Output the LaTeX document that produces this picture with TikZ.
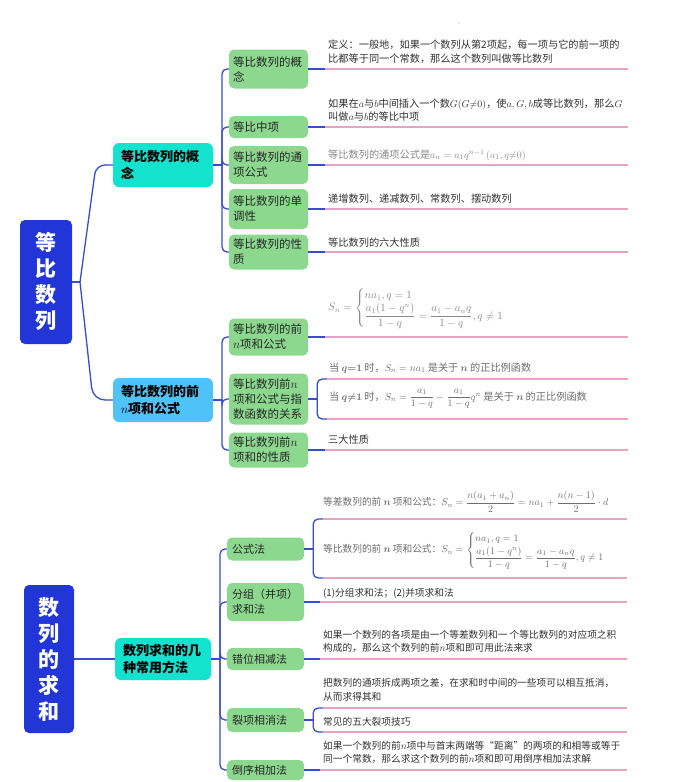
\documentclass[tikz,border=0pt]{standalone}
\usepackage{amsmath}
\usepackage{fontspec}
\setmainfont{Noto Sans CJK SC}
\definecolor{rootblue}{HTML}{2236D8}
\definecolor{tealc}{HTML}{12E2CE}
\definecolor{skyc}{HTML}{4FC2F7}
\definecolor{greenc}{HTML}{8BD88E}
\definecolor{linkblue}{HTML}{3A4CCC}
\definecolor{ulpink}{HTML}{E8A3C4}
\definecolor{leaftext}{HTML}{333333}
\definecolor{formgray}{HTML}{6E6E6E}
\definecolor{lightgray}{HTML}{8A8A8A}
\tikzset{
 rootbox/.style={fill=rootblue, rounded corners=5pt, text=white, align=center, inner sep=0pt, font=\fontsize{21}{26}\selectfont\bfseries},
 lvlone/.style={rounded corners=6pt, align=left, inner xsep=8pt, inner ysep=0pt, text width=84pt, font=\fontsize{13}{17}\selectfont\bfseries, text=black},
 lvltwo/.style={fill=greenc, rounded corners=5pt, align=left, inner xsep=4pt, inner ysep=0pt, text width=71pt, font=\fontsize{11.5}{15}\selectfont, text=black!85},
 lvltwob/.style={lvltwo, inner xsep=5pt, text width=67pt, font=\fontsize{11}{15}\selectfont},
 leafa/.style={anchor=west, align=left, inner sep=0pt, text=leaftext, font=\fontsize{10.2}{13.5}\selectfont},
 leafb/.style={leafa, font=\fontsize{9.7}{13.5}\selectfont},
 conn/.style={draw=linkblue, line width=1.3pt, rounded corners=5pt},
 uline/.style={draw=ulpink, line width=1.1pt},
}
\begin{document}
\begin{tikzpicture}[x=1pt,y=-1pt]
\useasboundingbox (0,0) rectangle (682,782);
\fill[white] (0,0) rectangle (682,782);
\fill[lightgray] (459,23) circle (0.6);

% roots
\node[rootbox, minimum width=52, minimum height=124] (r1) at (46,282) {等\\比\\数\\列};
\node[rootbox, minimum width=50, minimum height=148] (r2) at (49,659) {数\\列\\的\\求\\和};

% level 1
\node[lvlone, fill=tealc, minimum height=44] (c1) at (163,165) {等比数列的概\\念};
\node[lvlone, fill=skyc, minimum height=44] (c2) at (163,400) {等比数列的前\\$n$项和公式};
\node[lvlone, fill=tealc, minimum height=42, text width=80pt] (c3) at (163,659) {数列求和的几\\种常用方法};

% level 2
\node[lvltwo, minimum height=39] (k11) at (268.5,69) {等比数列的概\\念};
\node[lvltwo, minimum height=22] (k12) at (268.5,127) {等比中项};
\node[lvltwo, minimum height=38] (k13) at (268.5,165) {等比数列的通\\项公式};
\node[lvltwo, minimum height=40] (k14) at (268.5,209) {等比数列的单\\调性};
\node[lvltwo, minimum height=35] (k15) at (268.5,252) {等比数列的性\\质};
\node[lvltwo, minimum height=37] (k21) at (268.5,337) {等比数列的前\\$n$项和公式};
\node[lvltwo, minimum height=51] (k22) at (268.5,399) {等比数列前$n$\\项和公式与指\\数函数的关系};
\node[lvltwo, minimum height=35] (k23) at (268.5,450) {等比数列前$n$\\项和的性质};
\node[lvltwob, minimum height=23] (k31) at (265.5,549) {公式法};
\node[lvltwob, minimum height=38] (k32) at (265.5,602) {分组（并项）\\求和法};
\node[lvltwob, minimum height=22] (k33) at (265.5,659) {错位相减法};
\node[lvltwob, minimum height=24] (k34) at (265.5,720) {裂项相消法};
\node[lvltwob, minimum height=20] (k35) at (265.5,770) {倒序相加法};

% root connectors
\coordinate (j0) at (80,282);
\draw[conn] (r1.east) -- (j0);
\draw[conn, rounded corners=9pt] (j0) -- (96,165) -- (c1.west);
\draw[conn, rounded corners=12pt] (j0) -- (93,400) -- (c2.west);
\draw[conn] (r2.east) -- (c3.west);

% level1 -> level2
\coordinate (j1) at (222,165);
\coordinate (j2) at (222,400);
\coordinate (j3) at (220,659);
\draw[conn] (c1.east) -- (j1);
\draw[conn] (c2.east) -- (j2);
\draw[conn] (c3.east) -- (j3);
\foreach \k in {k11,k12,k13,k14,k15} {\draw[conn] (j1) |- (\k.west);}
\foreach \k in {k21,k22,k23} {\draw[conn] (j2) |- (\k.west);}
\foreach \k in {k31,k32,k33,k34,k35} {\draw[conn] (j3) |- (\k.west);}

% simple leaf lines
\foreach \k in {k11,k12,k13,k14,k15,k21,k23} {
  \draw[conn] (\k.east) -- ++(17,0) coordinate (u-\k);
  \draw[uline] (u-\k) -- ++(303,0);
}
\foreach \k in {k32,k33,k35} {
  \draw[conn] (\k.east) -- ++(16,0) coordinate (u-\k);
  \draw[uline] (u-\k) -- ++(307,0);
}
% brackets
\draw[conn] (k22.east) -- ++(9,0) coordinate (b22);
\draw[conn] (b22) |- ++(10,-20) coordinate (t22a);
\draw[conn] (b22) |- ++(10,20) coordinate (t22b);
\draw[uline] (t22a) -- ++(301,0);
\draw[uline] (t22b) -- ++(301,0);

\draw[conn] (k31.east) -- ++(9,0) coordinate (b31);
\draw[conn] (b31) |- ++(10,-30) coordinate (t31a);
\draw[conn] (b31) |- ++(10,29) coordinate (t31b);
\draw[uline] (t31a) -- ++(304,0);
\draw[uline] (t31b) -- ++(304,0);

\draw[conn] (k34.east) -- ++(9,0) coordinate (b34);
\draw[conn] (b34) |- ++(10,-12) coordinate (t34a);
\draw[conn] (b34) |- ++(10,12) coordinate (t34b);
\draw[uline] (t34a) -- ++(304,0);
\draw[uline] (t34b) -- ++(304,0);

% leaf texts group 1
\node[leafa] (x11) at (328,51.5) {定义：一般地，如果一个数列从第2项起，每一项与它的前一项的\\比都等于同一个常数，那么这个数列叫做等比数列};
\node[leafa] (x12) at (328,110) {如果在$a$与$b$中间插入一个数$G(G{\neq}0)$，使$a,G,b$成等比数列，那么$G$\\叫做$a$与$b$的等比中项};
\node[leafa, text=lightgray] (x13) at (328,155) {等比数列的通项公式是$a_n=a_1q^{n-1}\,(a_1,q{\neq}0)$};
\node[leafa] (x14) at (328,199) {递增数列、递减数列、常数列、摆动数列};
\node[leafa] (x15) at (328,243) {等比数列的六大性质};

% group 2
\node[leafa, text=lightgray, font=\fontsize{10.6}{13.5}\selectfont] (x21) at (328,308) {$S_n=\begin{cases} na_1,q=1\\ \dfrac{a_1(1-q^n)}{1-q}=\dfrac{a_1-a_nq}{1-q},q\neq1\end{cases}$};
\node[leafa, text=formgray] (x22) at (329,368) {当 {\boldmath$q{=}1$} 时，$S_n=na_1$ 是关于 {\boldmath$n$} 的正比例函数};
\node[leafa, text=formgray] (x23) at (329,399) {当 {\boldmath$q{\neq}1$} 时，$S_n=\dfrac{a_1}{1-q}-\dfrac{a_1}{1-q}q^n$ 是关于 {\boldmath$n$} 的正比例函数};
\node[leafa] (x24) at (328,440) {三大性质};

% group 3
\node[leafb, text=formgray] (x31a) at (323,502) {等差数列的前 {\boldmath$n$} 项和公式：$S_n=\dfrac{n(a_1+a_n)}{2}=na_1+\dfrac{n(n-1)}{2}\cdot d$};
\node[leafb, text=formgray] (x31b) at (323,550) {等比数列的前 {\boldmath$n$} 项和公式：$S_n=\begin{cases} na_1,q=1\\ \dfrac{a_1(1-q^n)}{1-q}=\dfrac{a_1-a_nq}{1-q},q\neq1\end{cases}$};
\node[leafb] (x32) at (323,593) {(1)分组求和法；(2)并项求和法};
\node[leafb] (x33) at (323,641.5) {如果一个数列的各项是由一个等差数列和一 个等比数列的对应项之积\\构成的，那么这个数列的前$n$项和即可用此法来求};
\node[leafb] (x34a) at (323,690) {把数列的通项拆成两项之差，在求和时中间的一些项可以相互抵消，\\从而求得其和};
\node[leafb] (x34b) at (323,722) {常见的五大裂项技巧};
\node[leafb] (x35) at (323,752.5) {如果一个数列的前$n$项中与首末两端等“距离”的两项的和相等或等于\\同一个常数，那么求这个数列的前$n$项和即可用倒序相加法求解};
\end{tikzpicture}
\end{document}
